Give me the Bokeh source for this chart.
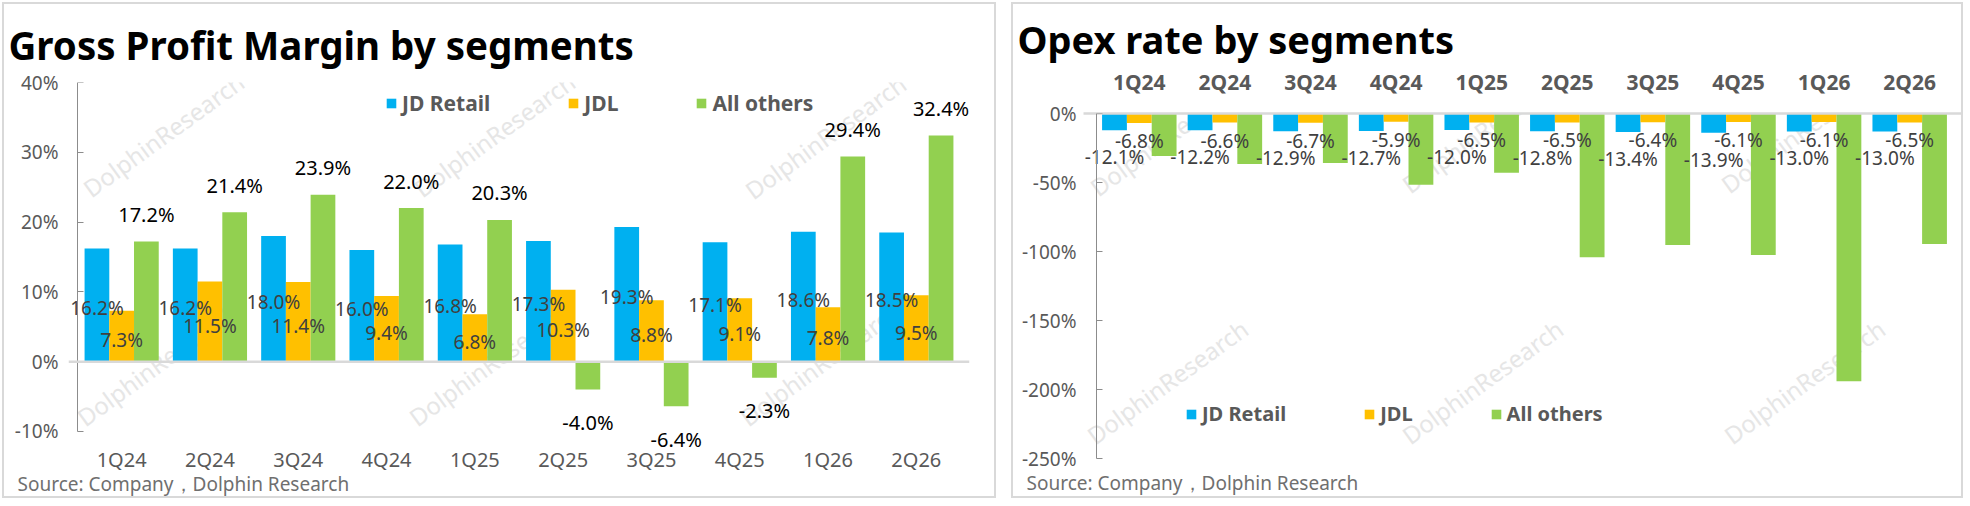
from bokeh.core.properties import value
from bokeh.embed import file_html
from bokeh.models import (ColumnDataSource, FactorRange, FixedTicker, Label, Legend,
                          LegendItem, LinearAxis, PrintfTickFormatter, Range1d, Span, Title)
from bokeh.plotting import figure
from bokeh.resources import INLINE
from bokeh.transform import dodge

QUARTERS = ['1Q24', '2Q24', '3Q24', '4Q24', '1Q25', '2Q25', '3Q25', '4Q25', '1Q26', '2Q26']
SEGMENTS = ['JD Retail', 'JDL', 'All others']
COLORS = ['#00B0F0', '#FFC000', '#92D050']

# gross profit margin, %
GPM_RETAIL = [16.2, 16.2, 18.0, 16.0, 16.8, 17.3, 19.3, 17.1, 18.6, 18.5]
GPM_JDL = [7.3, 11.5, 11.4, 9.4, 6.8, 10.3, 8.8, 9.1, 7.8, 9.5]
GPM_OTHERS = [17.2, 21.4, 23.9, 22.0, 20.3, -4.0, -6.4, -2.3, 29.4, 32.4]

# opex rate, %
OPEX_RETAIL = [-12.1, -12.2, -12.9, -12.7, -12.0, -12.8, -13.4, -13.9, -13.0, -13.0]
OPEX_JDL = [-6.8, -6.6, -6.7, -5.9, -6.5, -6.5, -6.4, -6.1, -6.1, -6.5]
OPEX_OTHERS = [-30.7, -36.5, -35.9, -51.7, -43.0, -104.1, -95.2, -102.5, -194.0, -94.5]

GPM_TICKS = [-10, 0, 10, 20, 30, 40]
OPEX_TICKS = [-250, -200, -150, -100, -50, 0]

FONT = 'Noto Sans'
GREY = '#595959'
SOURCE = 'Source: Company\uff0cDolphin Research'


def pct(vals):
    return ['%.1f%%' % v for v in vals]


def base_figure(title, width, height, borders, pad, x_loc, left_px, y_range, bounds, ticks,
                label_standoff):
    left, right, top, bottom = borders
    p = figure(width=width, height=height, title=title, x_axis_location=x_loc,
               x_range=FactorRange(factors=QUARTERS, range_padding=pad,
                                   range_padding_units='absolute'),
               y_range=Range1d(*y_range), toolbar_location=None, output_backend='svg',
               min_border_left=left, min_border_right=right, min_border_top=top,
               min_border_bottom=bottom)
    p.styles = {'position': 'absolute', 'left': left_px, 'top': '2px',
                'border': '2px solid #d9d9d9'}
    p.outline_line_color = None
    p.grid.grid_line_color = None
    p.title.align = 'left'
    p.title.text_font = FONT
    p.title.text_font_size = '38px'
    p.title.text_font_style = 'bold'
    p.title.text_color = '#000000'
    p.xaxis.major_tick_line_color = None
    p.xaxis.major_tick_in = 0
    p.xaxis.major_tick_out = 0
    p.xaxis.minor_tick_line_color = None
    p.xaxis.major_label_text_font = FONT
    p.xaxis.major_label_text_color = GREY

    # axis line and ticks sit at the left edge of the first quarter
    p.yaxis.fixed_location = 0
    p.yaxis.bounds = bounds
    p.yaxis.ticker = FixedTicker(ticks=ticks)
    p.yaxis.axis_line_color = '#8c8c8c'
    p.yaxis.major_tick_line_color = '#8c8c8c'
    p.yaxis.major_tick_in = 6
    p.yaxis.major_tick_out = 0
    p.yaxis.minor_tick_line_color = None
    p.yaxis.major_label_text_font_size = '0px'
    p.yaxis.major_label_text_color = None
    p.yaxis.major_label_standoff = 0

    # tick labels on their own axis, outside the frame
    labels = LinearAxis(ticker=FixedTicker(ticks=ticks), formatter=PrintfTickFormatter(format='%d%%'),
                        axis_line_color=None, major_tick_line_color=None,
                        minor_tick_line_color=None, major_tick_in=0, major_tick_out=0,
                        major_label_standoff=label_standoff, major_label_text_font=FONT,
                        major_label_text_font_size='19px', major_label_text_color=GREY)
    p.add_layout(labels, 'left')
    return p


def add_source(p, offset, standoff):
    p.add_layout(Title(text=SOURCE, align='left', offset=offset, standoff=standoff,
                       text_font=FONT, text_font_size='19px', text_font_style='normal',
                       text_color='#6f6f6f'), 'below')


def add_bars(p, src, fields, width):
    renderers = []
    for i, (f, c) in enumerate(zip(fields, COLORS)):
        r = p.vbar(x=dodge('q', (i - 1) * width, range=p.x_range), top=f, width=width,
                   source=src, color=c, line_color=None)
        renderers.append(r)
    return renderers


def add_legend(p, renderers, loc, size, spacing):
    legend = Legend(items=[LegendItem(label=s, renderers=[r]) for s, r in zip(SEGMENTS, renderers)],
                    orientation='horizontal', location=loc, padding=0, margin=0,
                    spacing=spacing, glyph_width=12, glyph_height=12, label_standoff=5,
                    label_text_font=FONT, label_text_font_size=size, label_text_font_style='bold',
                    label_text_color=GREY, border_line_color=None, background_fill_alpha=0)
    p.add_layout(legend)


def add_labels(p, src, shift, y, text, y_offset, size, color):
    p.text(x=dodge('q', shift, range=p.x_range), y=y, text=text, source=src, y_offset=y_offset,
           text_align='center', text_baseline='middle', text_font=value(FONT),
           text_font_size=size, text_color=color)


def add_watermarks(p, spots):
    for x, y in spots:
        p.add_layout(Label(x=x, y=y, x_units='screen', y_units='screen', text='DolphinResearch',
                           angle=36, angle_units='deg', text_font=FONT, text_font_size='24px',
                           text_color='#e6e6e6', level='underlay'))


# ---- gross profit margin ----
gpm = ColumnDataSource(dict(
    q=QUARTERS, retail=GPM_RETAIL, jdl=GPM_JDL, others=GPM_OTHERS,
    retail_mid=[v / 2 for v in GPM_RETAIL], jdl_mid=[v / 2 for v in GPM_JDL],
    retail_lbl=pct(GPM_RETAIL), jdl_lbl=pct(GPM_JDL), others_lbl=pct(GPM_OTHERS),
    others_off=[-27 if v >= 0 else 33 for v in GPM_OTHERS],
))

p1 = base_figure('Gross Profit Margin by segments', 994, 496, (64, 29, 75, 53), 0.102,
                 'below', '2px', (-12.3, 40), (-10, 40), GPM_TICKS, 10)
p1.title.offset = -60
p1.title.standoff = 24
p1.title.text_font_size = '38.5px'
p1.xaxis.axis_line_color = None
p1.xaxis.major_label_text_font_size = '20px'
p1.xaxis.major_label_standoff = -2
add_source(p1, -51, -14)
add_watermarks(p1, [(27, 243), (358, 243), (689, 241), (21, 14), (353, 14), (684, 14)])
p1.add_layout(Span(location=0, dimension='width', line_color='#d9d9d9', line_width=2.5))

bars1 = add_bars(p1, gpm, ['retail', 'jdl', 'others'], 0.28)
add_labels(p1, gpm, -0.28, 'retail_mid', 'retail_lbl', 3, '19px', '#404040')
add_labels(p1, gpm, 0, 'jdl_mid', 'jdl_lbl', 4, '19px', '#404040')
add_labels(p1, gpm, 0.28, 'others', 'others_lbl', 'others_off', '20px', '#000000')
add_legend(p1, bars1, (317, 330), '21px', 77)

# ---- opex rate ----
opex = ColumnDataSource(dict(
    q=QUARTERS, retail=OPEX_RETAIL, jdl=OPEX_JDL, others=OPEX_OTHERS,
    retail_lbl=pct(OPEX_RETAIL), jdl_lbl=pct(OPEX_JDL),
))

p2 = base_figure('Opex rate by segments', 952, 496, (70, 0, 109, 35), 0.152,
                 'above', '1011px', (-255, 0), (-250, 0), OPEX_TICKS, 7)
p2.title.offset = -66
p2.title.standoff = 0
p2.xaxis.axis_line_color = '#d9d9d9'
p2.xaxis.axis_line_width = 2.5
p2.xaxis.major_label_text_font_size = '21px'
p2.xaxis.major_label_text_font_style = 'bold'
p2.xaxis.major_label_standoff = 18
add_source(p2, -57, 4)
add_watermarks(p2, [(19, 262), (331, 265), (650, 265), (16, 14), (331, 14), (653, 14)])

bars2 = add_bars(p2, opex, ['retail', 'jdl', 'others'], 0.29)
add_labels(p2, opex, -0.29, 'retail', 'retail_lbl', 27, '19px', '#404040')
add_labels(p2, opex, 0, 'jdl', 'jdl_lbl', 18, '19px', '#404040')
add_legend(p2, bars2, (102, 38), '20px', 77)

open('out.html', 'w').write(file_html([p1, p2], INLINE))
